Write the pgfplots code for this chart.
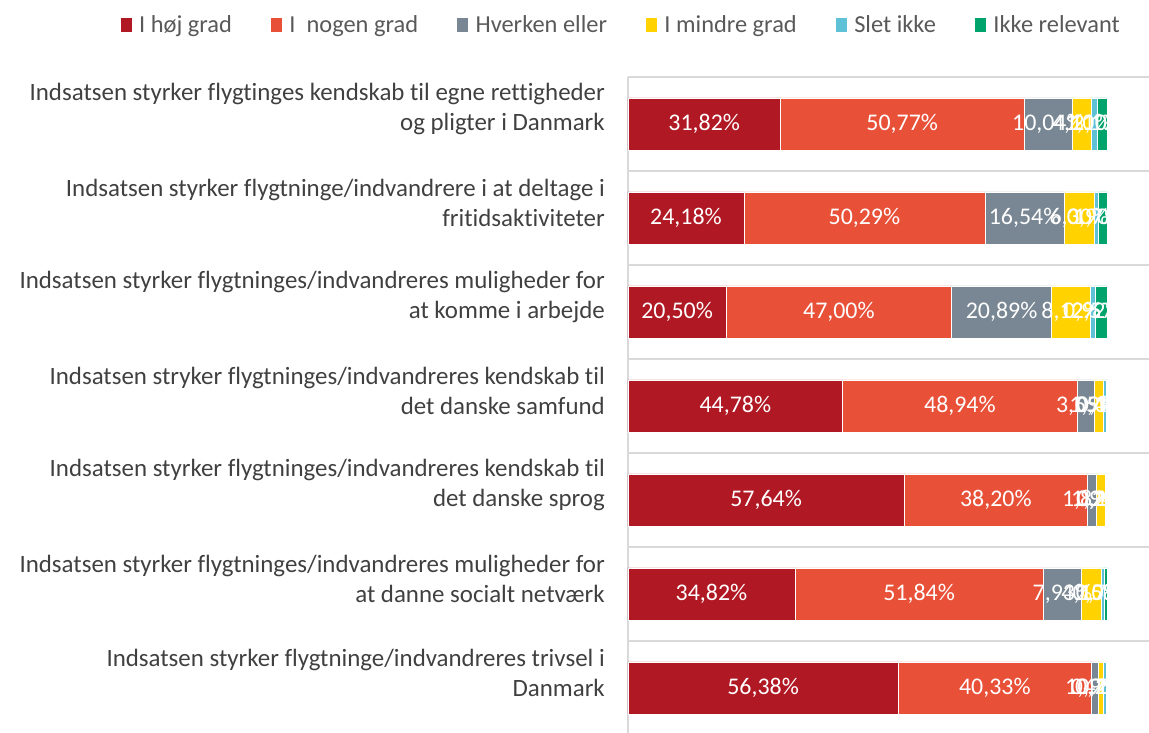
\documentclass[border=0pt]{standalone}
\usepackage{fontspec}
\setmainfont{Carlito}[Ligatures=NoCommon]
\usepackage{pgfplots}
\pgfplotsset{compat=1.18}
\definecolor{cA}{RGB}{176,24,35}
\definecolor{cB}{RGB}{233,80,56}
\definecolor{cC}{RGB}{120,135,147}
\definecolor{cD}{RGB}{255,210,0}
\definecolor{cE}{RGB}{94,193,214}
\definecolor{cF}{RGB}{0,163,108}
\definecolor{txt}{RGB}{64,64,64}
\definecolor{lgd}{RGB}{89,89,89}
\definecolor{grd}{RGB}{217,217,217}
\begin{document}
\begin{tikzpicture}
\useasboundingbox (-628bp,0) rectangle (521bp,733bp);
\begin{axis}[
  at={(0,0)}, anchor=south west, scale only axis,
  width=521bp, height=656bp,
  xbar stacked, bar width=0.555,
  xmin=0, xmax=108.7, ymin=-0.5, ymax=6.48, y dir=reverse,
  axis line style={draw=none},
  xtick={0}, xticklabels={}, xmajorgrids,
  major grid style={draw=grd, line width=1.2bp},
  ytick={0,...,6},
  minor ytick={-0.5,0.5,1.5,2.5,3.5,4.5,5.5},
  yminorgrids,
  minor grid style={draw=grd, line width=1.8bp},
  major tick length=0, minor tick length=0,
  yticklabels={
    {Indsatsen styrker flygtinges kendskab til egne rettigheder\\og pligter i Danmark},
    {Indsatsen styrker flygtninge/indvandrere i at deltage i\\fritidsaktiviteter},
    {Indsatsen styrker flygtninges/indvandreres muligheder for\\at komme i arbejde},
    {Indsatsen stryker flygtninges/indvandreres kendskab til\\det danske samfund},
    {Indsatsen styrker flygtninges/indvandreres kendskab til\\det danske sprog},
    {Indsatsen styrker flygtninges/indvandreres muligheder for\\at danne socialt netværk},
    {Indsatsen styrker flygtninge/indvandreres trivsel i\\Danmark}},
  yticklabel style={align=right, inner sep=0pt, xshift=-23bp, yshift=15bp,
    text=txt, font=\fontsize{25}{30}\selectfont},
  legend columns=6,
  legend style={at={(-0.014,1.079)}, anchor=center, draw=none, fill=none,
    font=\fontsize{24.5}{28}\selectfont, text=lgd,
    /tikz/every even column/.append style={column sep=36bp}},
  legend image code/.code={\path (0bp,0bp) -- (17bp,0bp);\fill[#1] (0bp,-7.5bp) rectangle (12bp,7.5bp);},
  every axis plot/.append style={draw=white, line width=0.5bp},
]
\addplot[fill=cA] coordinates {(31.82,0) (24.18,1) (20.50,2) (44.78,3) (57.64,4) (34.82,5) (56.38,6)};
\addlegendentry{I høj grad}
\addplot[fill=cB] coordinates {(50.77,0) (50.29,1) (47.00,2) (48.94,3) (38.20,4) (51.84,5) (40.33,6)};
\addlegendentry{I\ \ nogen grad}
\addplot[fill=cC] coordinates {(10.04,0) (16.54,1) (20.89,2) (3.55,3) (1.82,4) (7.93,5) (1.42,6)};
\addlegendentry{Hverken eller}
\addplot[fill=cD] coordinates {(4.10,0) (6.30,1) (8.12,2) (1.98,3) (1.94,4) (4.10,5) (0.95,6)};
\addlegendentry{I mindre grad}
\addplot[fill=cE] coordinates {(1.10,0) (0.90,1) (0.92,2) (0.45,3) (0.22,4) (0.58,5) (0.78,6)};
\addlegendentry{Slet ikke}
\addplot[fill=cF] coordinates {(2.17,0) (1.79,1) (2.57,2) (0.30,3) (0.18,4) (0.73,5) (0.14,6)};
\addlegendentry{Ikke relevant}
\end{axis}
\begin{axis}[
  at={(0,0)}, anchor=south west, scale only axis,
  width=521bp, height=656bp,
  xmin=0, xmax=108.7, ymin=-0.5, ymax=6.48, y dir=reverse,
  hide axis, clip=false,
  point meta=explicit,
  nodes near coords={\pgfmathprintnumber[fixed,fixed zerofill,precision=2,use comma,assume math mode=true]{\pgfplotspointmeta}\%},
  nodes near coords style={anchor=center, text=white, font=\fontsize{24}{28}\selectfont},
]
\addplot[only marks, mark=none] coordinates {
 (15.91,0) [31.82] (57.205,0) [50.77] (87.61,0) [10.04] (94.68,0) [4.10] (97.28,0) [1.10] (98.915,0) [2.17]
 (12.09,1) [24.18] (49.325,1) [50.29] (82.74,1) [16.54] (94.16,1) [6.30] (97.76,1) [0.90] (99.105,1) [1.79]
 (10.25,2) [20.50] (44.0,2) [47.00] (77.945,2) [20.89] (92.45,2) [8.12] (96.97,2) [0.92] (98.715,2) [2.57]
 (22.39,3) [44.78] (69.25,3) [48.94] (95.495,3) [3.55] (98.26,3) [1.98] (99.475,3) [0.45] (99.85,3) [0.30]
 (28.82,4) [57.64] (76.74,4) [38.20] (96.75,4) [1.82] (98.63,4) [1.94] (99.71,4) [0.22] (99.91,4) [0.18]
 (17.41,5) [34.82] (60.74,5) [51.84] (90.625,5) [7.93] (96.64,5) [4.10] (98.98,5) [0.58] (99.635,5) [0.73]
 (28.19,6) [56.38] (76.545,6) [40.33] (97.42,6) [1.42] (98.605,6) [0.95] (99.47,6) [0.78] (99.93,6) [0.14]
};
\end{axis}
\end{tikzpicture}
\end{document}
